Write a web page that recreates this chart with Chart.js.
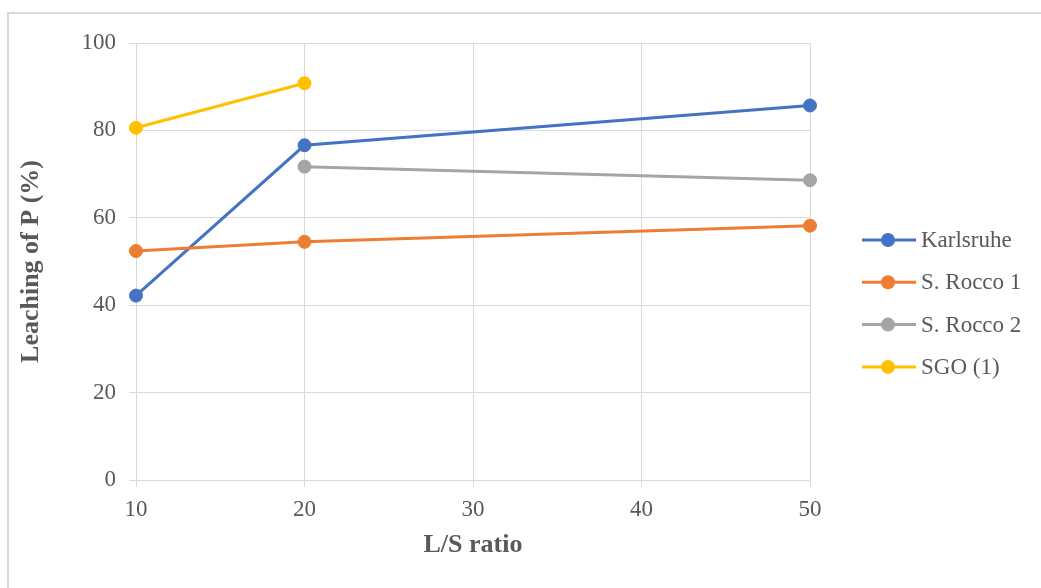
<!DOCTYPE html>
<html>
<head>
<meta charset="utf-8">
<script src="https://cdn.jsdelivr.net/npm/chart.js@4/dist/chart.umd.min.js"></script>
<style>
  html, body { margin: 0; padding: 0; background: #ffffff; }
  #wrap { position: relative; width: 1041px; height: 588px; overflow: hidden; }
  #frame { position: absolute; left: 7px; top: 12px; width: 1100px; height: 700px;
           border-top: 2px solid #d9d9d9; border-left: 2px solid #d9d9d9; pointer-events: none; }
  canvas { position: absolute; left: 0; top: 0; }
</style>
</head>
<body>
<div id="wrap">
  <canvas id="c" width="1041" height="588"></canvas>
  <div id="frame"></div>
</div>
<script>
// ---- data ----
const lsRatio = [10, 20, 50];
const seriesNames = ['Karlsruhe', 'S. Rocco 1', 'S. Rocco 2', 'SGO (1)'];
const karlsruhe = [42.2, 76.6, 85.7];
const sRocco1 = [52.4, 54.5, 58.2];
const sRocco2 = [null, 71.7, 68.6];
const sgo1 = [80.6, 90.8, null];
const xTicks = [10, 20, 30, 40, 50];
const yTicks = [0, 20, 40, 60, 80, 100];
const xTitle = 'L/S ratio';
const yTitle = 'Leaching of P (%)';

// ---- styling ----
const colors = ['#4472C4', '#ED7D31', '#A5A5A5', '#FFC000'];
const FONT = '"Liberation Serif", "Times New Roman", serif';
const TEXT = '#595959';
const GRID = '#d9d9d9';

function toPoints(vals) {
  const pts = [];
  vals.forEach((v, i) => { if (v !== null) pts.push({ x: lsRatio[i], y: v }); });
  return pts;
}

const allSeries = [karlsruhe, sRocco1, sRocco2, sgo1];
const datasets = allSeries.map((vals, i) => ({
  label: seriesNames[i],
  data: toPoints(vals),
  borderColor: colors[i],
  backgroundColor: colors[i],
  pointBackgroundColor: colors[i],
  pointBorderColor: colors[i],
  borderWidth: 3,
  pointRadius: 6.5,
  pointBorderWidth: 1,
  pointHoverRadius: 6.5,
  tension: 0,
  order: allSeries.length - i,
  showLine: true,
  fill: false,
  clip: false
}));

const legendPlugin = {
  id: 'sideLegend',
  afterDraw(chart) {
    const ctx = chart.ctx;
    ctx.save();
    chart.data.datasets.forEach((ds, i) => {
      const y = 240 + i * 42.3;
      ctx.strokeStyle = ds.borderColor;
      ctx.lineWidth = 3;
      ctx.beginPath();
      ctx.moveTo(862, y);
      ctx.lineTo(916, y);
      ctx.stroke();
      ctx.fillStyle = ds.borderColor;
      ctx.beginPath();
      ctx.arc(888, y, 7, 0, Math.PI * 2);
      ctx.fill();
      ctx.fillStyle = TEXT;
      ctx.font = '23px ' + FONT;
      ctx.textBaseline = 'middle';
      ctx.textAlign = 'left';
      ctx.fillText(ds.label, 921, y + 1);
    });
    ctx.restore();
  }
};

new Chart(document.getElementById('c'), {
  type: 'scatter',
  data: { datasets },
  options: {
    responsive: false,
    animation: false,
    devicePixelRatio: 1,
    layout: { padding: { left: 0, right: 231, top: 43, bottom: 0 } },
    plugins: {
      legend: { display: false },
      tooltip: { enabled: false }
    },
    scales: {
      x: {
        type: 'linear',
        min: 10, max: 50,
        afterBuildTicks: (s) => { s.ticks = xTicks.map(v => ({ value: v })); },
        afterFit: (s) => { s.height = 108; },
        grid: { color: GRID, lineWidth: 1, tickLength: 7, tickColor: GRID, drawTicks: true },
        border: { color: GRID, width: 1 },
        ticks: { color: TEXT, font: { family: FONT, size: 23 }, padding: 9, maxRotation: 0 },
        title: { display: true, text: xTitle, color: TEXT,
                 font: { family: FONT, size: 26, weight: 'bold' }, padding: { top: 0, bottom: 27 } }
      },
      y: {
        type: 'linear',
        min: 0, max: 100,
        afterBuildTicks: (s) => { s.ticks = yTicks.map(v => ({ value: v })); },
        afterFit: (s) => { s.width = 136; },
        grid: { color: GRID, lineWidth: 1, tickLength: 7, tickColor: GRID, drawTicks: true },
        border: { color: GRID, width: 1 },
        ticks: { color: TEXT, font: { family: FONT, size: 23 }, padding: 13 },
        title: { display: true, text: yTitle, color: TEXT,
                 font: { family: FONT, size: 26, weight: 'bold' }, padding: { top: 16, bottom: 0 } }
      }
    }
  },
  plugins: [legendPlugin]
});
</script>
</body>
</html>
